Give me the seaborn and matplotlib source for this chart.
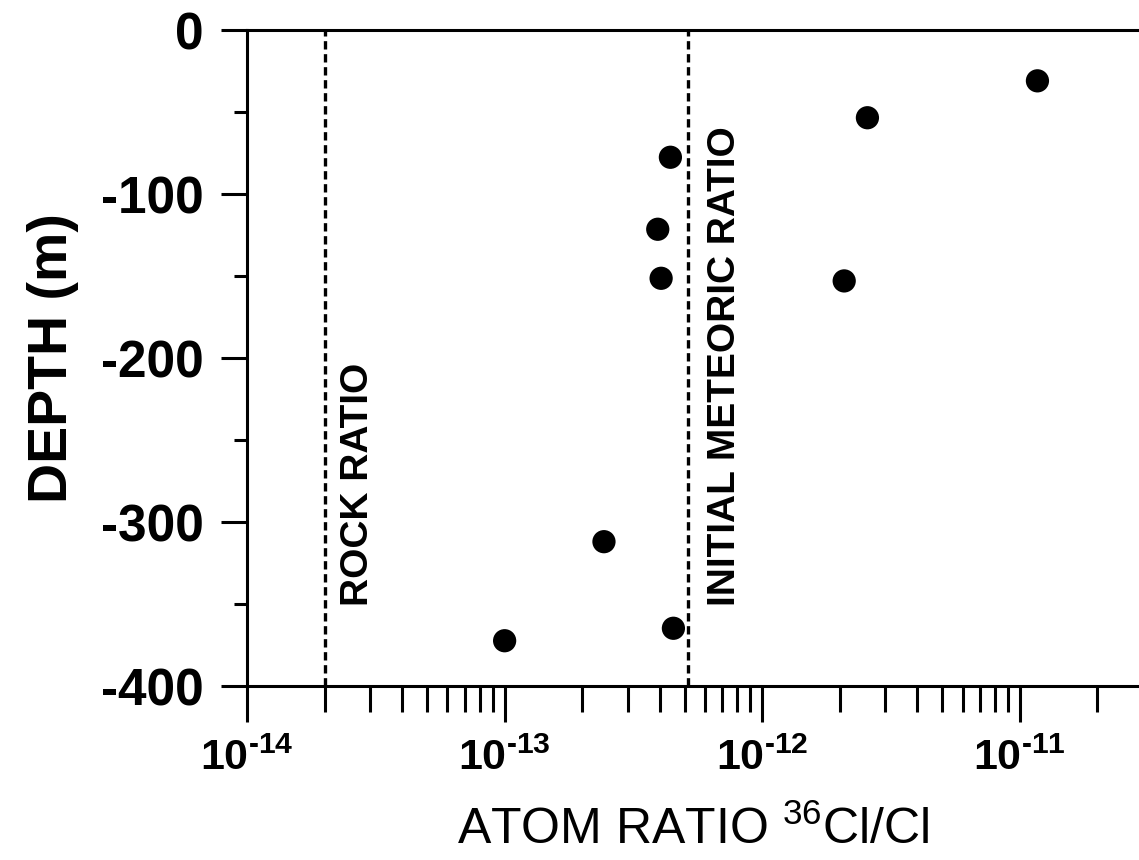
import numpy as np
import pandas as pd
import matplotlib
matplotlib.use("Agg")
import matplotlib.pyplot as plt
import matplotlib.ticker as mticker
import seaborn as sns

# ---- data ----
ratio = [1.17e-11, 2.56e-12, 4.40e-13, 3.93e-13, 4.05e-13, 2.08e-12, 2.43e-13, 4.52e-13, 1.0e-13]
depth = [-31, -53.5, -77.6, -121.5, -151.4, -153, -312, -364.8, -372.4]

ref_values = [2.0e-14, 5.16e-13]
ref_labels = ["ROCK RATIO", "INITIAL METEORIC RATIO"]
ref_label_x = [2.70e-14, 7.14e-13]

x_major = [1e-14, 1e-13, 1e-12, 1e-11]
x_major_exp = ["14", "13", "12", "11"]
y_major = [0, -100, -200, -300, -400]
y_minor = [-50, -150, -250, -350]

sns.set_style("ticks")
plt.rcParams["font.family"] = ["Liberation Sans", "DejaVu Sans"]
plt.rcParams["axes.unicode_minus"] = False
plt.rcParams["mathtext.fontset"] = "custom"
plt.rcParams["mathtext.rm"] = "Liberation Sans"
plt.rcParams["mathtext.bf"] = "Liberation Sans:bold"
plt.rcParams["text.color"] = "black"
plt.rcParams["axes.labelcolor"] = "black"
plt.rcParams["xtick.color"] = "black"
plt.rcParams["ytick.color"] = "black"

fig = plt.figure(figsize=(11.39, 8.60), dpi=100)
ax = fig.add_axes([247 / 1139, 174 / 860, (1139 - 247) / 1139, (686 - 30) / 860])

df = pd.DataFrame({"ratio": ratio, "depth": depth})
sns.scatterplot(data=df, x="ratio", y="depth", ax=ax, color="black", s=280,
                edgecolor="none", linewidth=0, zorder=3)

for v in ref_values:
    ax.axvline(v, color="black", lw=2.4, linestyle=(0, (2.5, 1.4)), zorder=2)
for xv, lab in zip(ref_label_x, ref_labels):
    ax.text(xv, -351, lab, rotation=90, ha="center", va="bottom",
            fontsize=28, fontweight="bold", color="black")

ax.set_xscale("log")
ax.set_xlim(1e-14, 2.9e-11)
ax.set_ylim(-400, 0)

minor_x = [m * d for d in x_major for m in range(2, 10) if m * d < 2.9e-11]
ax.xaxis.set_major_locator(mticker.FixedLocator(x_major))
ax.xaxis.set_minor_locator(mticker.FixedLocator(minor_x))
ax.xaxis.set_minor_formatter(mticker.NullFormatter())
ax.xaxis.set_major_formatter(mticker.FixedFormatter(
    ["$\\mathbf{10^{\u2010%s}}$" % s for s in x_major_exp]))

ax.yaxis.set_major_locator(mticker.FixedLocator(y_major))
ax.yaxis.set_minor_locator(mticker.FixedLocator(y_minor))
ax.yaxis.set_major_formatter(mticker.FuncFormatter(lambda v, p: "%d" % v))

ax.tick_params(axis="x", which="major", direction="out", length=26, width=2.2,
               labelsize=31, pad=12, top=False, color="black")
ax.tick_params(axis="x", which="minor", direction="out", length=19, width=2.2, top=False)
ax.tick_params(axis="y", which="major", direction="out", length=19, width=2.2,
               labelsize=37, pad=12, right=False)
ax.tick_params(axis="y", which="minor", direction="out", length=9.5, width=2.2, right=False)
for lab in ax.get_yticklabels():
    lab.set_fontweight("bold")

for side in ["left", "bottom", "top"]:
    ax.spines[side].set_linewidth(2.2)
    ax.spines[side].set_color("black")
ax.spines["right"].set_visible(False)

ax.set_xlabel(r"ATOM RATIO $^{36}$Cl/Cl", fontsize=36, labelpad=19)
ax.set_ylabel("DEPTH (m)", fontsize=40, fontweight="bold", labelpad=16)

fig.savefig("out.png", dpi=100)
